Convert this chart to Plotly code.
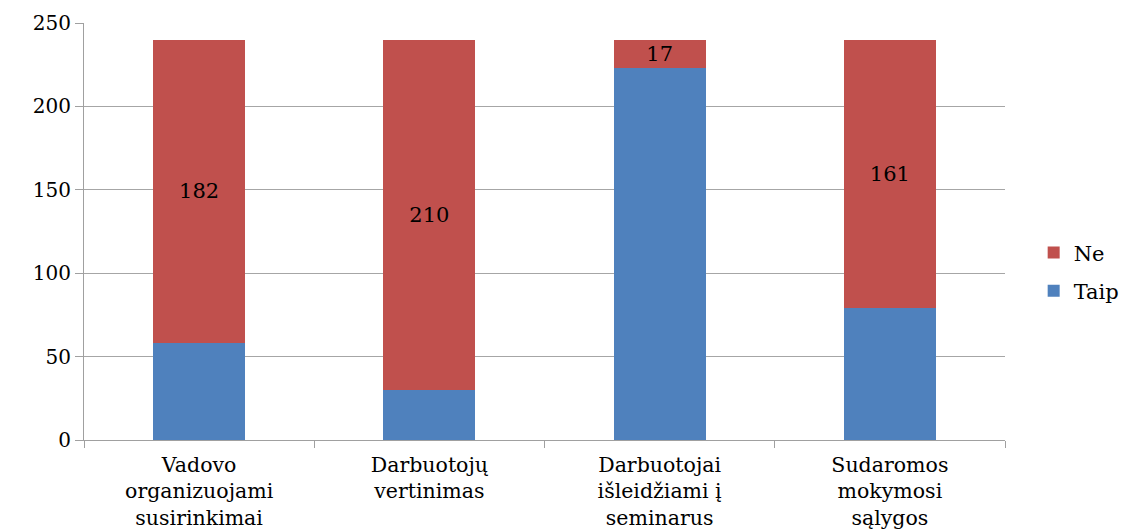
import plotly.graph_objects as go

categories = [
    "Vadovo<br>organizuojami<br>susirinkimai",
    "Darbuotojų<br>vertinimas",
    "Darbuotojai<br>išleidžiami į<br>seminarus",
    "Sudaromos<br>mokymosi<br>sąlygos",
]
taip_values = [58, 30, 223, 79]
ne_values = [182, 210, 17, 161]
y_ticks = [0, 50, 100, 150, 200, 250]

FONT = "DejaVu Serif"

fig = go.Figure()
fig.add_trace(go.Bar(
    name="Taip", x=categories, y=taip_values,
    legendgroup="taip", legendrank=2,
    marker=dict(color="#4f81bd", line=dict(width=0)),
))
fig.add_trace(go.Bar(
    name="Ne", x=categories, y=ne_values,
    legendgroup="ne", legendrank=1,
    marker=dict(color="#c0504d", line=dict(width=0)),
    text=[str(v) for v in ne_values], textposition="inside",
    insidetextanchor="middle", textangle=0, constraintext="none",
    textfont=dict(family=FONT, size=21, color="#000000"),
))

fig.update_layout(
    width=1126, height=530,
    barmode="stack", bargap=0.6,
    plot_bgcolor="white", paper_bgcolor="white",
    margin=dict(l=84, r=121, t=23, b=90, autoexpand=False),
    font=dict(family=FONT, size=20, color="#000000"),
    uniformtext=dict(mode=False),
    legend=dict(
        traceorder="grouped", tracegroupgap=8,
        xref="container", yref="container",
        x=0.918, y=0.487, xanchor="left", yanchor="middle",
        font=dict(family=FONT, size=21),
        itemwidth=30,
    ),
    xaxis=dict(
        showline=True, linecolor="#a0a0a0", linewidth=1,
        ticks="outside", ticklen=7, tickcolor="#a0a0a0",
        tickson="boundaries", automargin=False,
        ticklabelstandoff=6,
        tickfont=dict(family=FONT, size=20.5),
    ),
    yaxis=dict(
        range=[0, 250], tickvals=y_ticks,
        showline=True, linecolor="#a0a0a0", linewidth=1,
        ticks="outside", ticklen=8, tickcolor="#a0a0a0",
        showgrid=True, gridcolor="#a6a6a6", gridwidth=1,
        zeroline=False, automargin=False,
        tickfont=dict(family=FONT, size=20),
    ),
)

fig.write_html("out.html")
